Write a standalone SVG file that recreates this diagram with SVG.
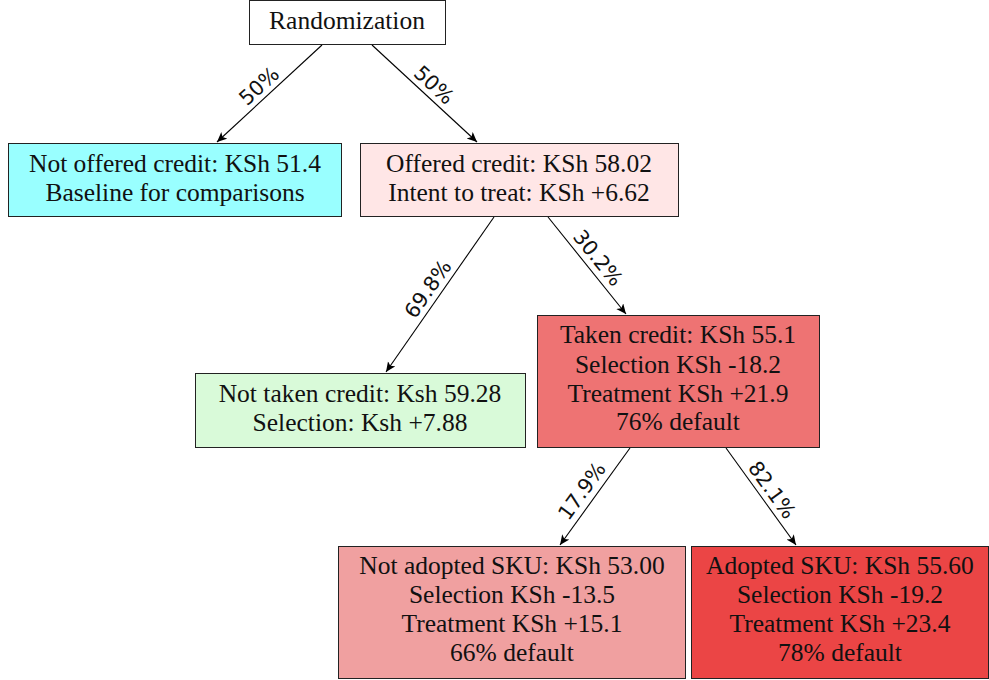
<svg xmlns="http://www.w3.org/2000/svg" width="989" height="680" viewBox="0 0 989 680">
<style>
.box{stroke:#222;stroke-width:1}
.t{font-family:'Liberation Serif','DejaVu Serif',serif;font-size:25.5px;fill:#111;text-anchor:middle}
.lbl{font-family:'DejaVu Sans',sans-serif;font-size:20.5px;fill:#111;text-anchor:middle;dominant-baseline:central}
.e{stroke:#000;stroke-width:1.1;fill:none;marker-end:url(#arr)}
</style>
<defs>
<marker id="arr" markerWidth="12" markerHeight="10" refX="10" refY="4.5" orient="auto" markerUnits="userSpaceOnUse">
<path d="M0,0 L10,4.5 L0,9 L2.5,4.5 z" fill="#000"/>
</marker>
</defs>
<rect width="989" height="680" fill="#fff"/>
<g id="connectors">
<line class="e" x1="322" y1="45" x2="217" y2="142"/>
<line class="e" x1="372" y1="45" x2="477" y2="142"/>
<line class="e" x1="494" y1="217" x2="386" y2="372"/>
<line class="e" x1="548" y1="217" x2="626" y2="314"/>
<line class="e" x1="630" y1="448" x2="560" y2="545"/>
<line class="e" x1="726" y1="448" x2="796" y2="545"/>
<text class="lbl" transform="translate(259,86) rotate(-42.4)">50%</text>
<text class="lbl" transform="translate(434,85) rotate(42.4)">50%</text>
<text class="lbl" transform="translate(428,289) rotate(-55)">69.8%</text>
<text class="lbl" transform="translate(598,258) rotate(51)">30.2%</text>
<text class="lbl" transform="translate(582,491) rotate(-54)">17.9%</text>
<text class="lbl" transform="translate(772,490) rotate(54)">82.1%</text>
</g>
<g id="randomization">
<rect class="box" x="249.5" y="0.5" width="196" height="44" fill="#fff"/>
<text class="t" x="347" y="29">Randomization</text>
</g>
<g id="not-offered">
<rect class="box" x="8.5" y="143.5" width="333" height="73" fill="#99FFFF"/>
<text class="t" x="175" y="172">Not offered credit: KSh 51.4</text>
<text class="t" x="175" y="201">Baseline for comparisons</text>
</g>
<g id="offered">
<rect class="box" x="360.5" y="143.5" width="318" height="73" fill="#FFE6E6"/>
<text class="t" x="519" y="172">Offered credit: KSh 58.02</text>
<text class="t" x="519" y="201">Intent to treat: KSh +6.62</text>
</g>
<g id="not-taken">
<rect class="box" x="195.5" y="373.5" width="330" height="74" fill="#D9FAD9"/>
<text class="t" x="360" y="402">Not taken credit: Ksh 59.28</text>
<text class="t" x="360" y="431">Selection: Ksh +7.88</text>
</g>
<g id="taken">
<rect class="box" x="537.5" y="315.5" width="282" height="132" fill="#EE7373"/>
<text class="t" x="678" y="343">Taken credit: KSh 55.1</text>
<text class="t" x="678" y="373">Selection KSh -18.2</text>
<text class="t" x="678" y="402">Treatment KSh +21.9</text>
<text class="t" x="678" y="430">76% default</text>
</g>
<g id="not-adopted">
<rect class="box" x="338.5" y="546.5" width="347" height="132" fill="#F0A0A0"/>
<text class="t" x="512" y="574">Not adopted SKU: KSh 53.00</text>
<text class="t" x="512" y="603">Selection KSh -13.5</text>
<text class="t" x="512" y="632">Treatment KSh +15.1</text>
<text class="t" x="512" y="661">66% default</text>
</g>
<g id="adopted">
<rect class="box" x="691.5" y="546.5" width="297" height="132" fill="#EB4545"/>
<text class="t" x="840" y="574">Adopted SKU: KSh 55.60</text>
<text class="t" x="840" y="603">Selection KSh -19.2</text>
<text class="t" x="840" y="632">Treatment KSh +23.4</text>
<text class="t" x="840" y="661">78% default</text>
</g>
</svg>
